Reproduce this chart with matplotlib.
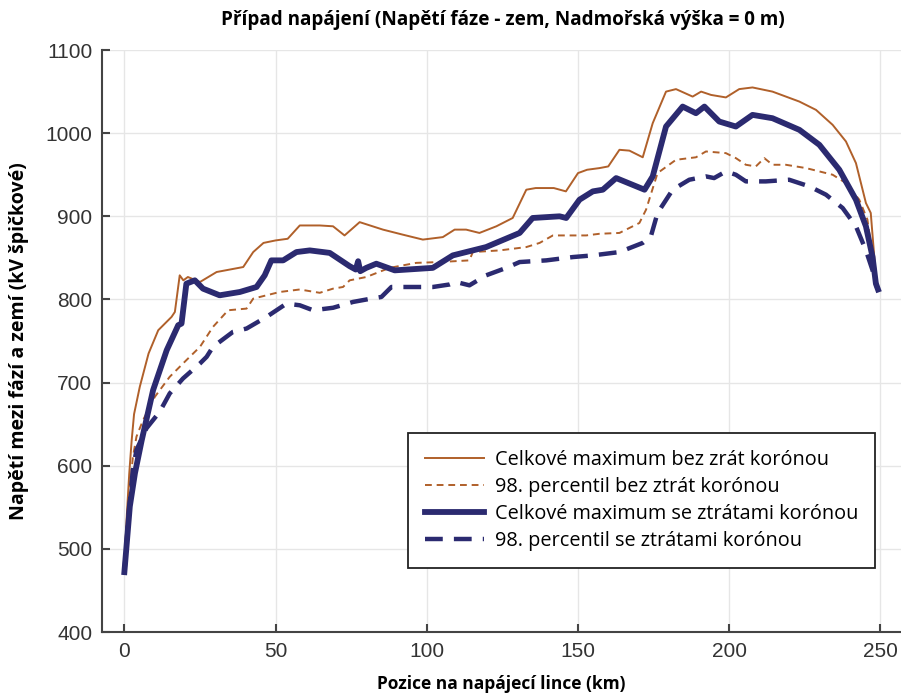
import matplotlib
matplotlib.use("Agg")
import matplotlib.pyplot as plt

# --- data (km, kV peak) ---
max_nocorona_x = [0, 0.8, 1.6, 2.4, 3.2, 5.1, 8, 11.2, 15.6, 16.7, 18.3, 19.5, 21, 25, 30.5,
                  39.3, 42.6, 46, 50, 54, 58, 64.6, 69, 72.8, 77.8, 85.5, 92, 98.7, 105.3,
                  109.2, 113, 117.4, 123, 128.4, 132.9, 136, 142, 146, 150, 153, 157.1,
                  160, 163.7, 167, 171.4, 174.7, 179.1, 182.4, 187.9, 190.7, 194, 198.9,
                  203.3, 207.7, 214.3, 223.2, 228.7, 234.2, 238.6, 241.9, 245.2, 246.8,
                  248.5, 249.2]
max_nocorona_y = [478, 540, 590, 630, 662, 695, 735, 763, 779, 785, 829, 823, 827, 821, 833,
                  839, 857, 868, 871, 873, 889, 889, 888, 877, 893, 884, 878, 872, 875,
                  884, 884, 880, 888, 898, 932, 934, 934, 930, 952, 956, 958,
                  960, 980, 979, 971, 1012, 1050, 1053, 1044, 1050, 1046, 1043,
                  1053, 1055, 1050, 1038, 1028, 1010, 990, 964, 916, 904,
                  827, 815]

max_corona_x = [0, 1.8, 3.5, 5.7, 9.5, 14, 17.8, 18.9, 20.5, 23.3, 26, 31.5, 38.2, 43.7,
                46.4, 48.6, 52.5, 56.9, 61.3, 67.9, 74.5, 76.5, 77.3, 78, 80, 83.3, 89.4,
                102, 108.6, 119.6, 130.7, 135, 143.9, 146.1, 150.5, 154.9, 158.2, 162.6,
                172, 174.7, 179.1, 184.6, 189, 191.8, 196.7, 202.2, 207.7, 214.3, 223.2,
                229.8, 236.4, 241.9, 245.2, 247.4, 248.5, 249.2]
max_corona_y = [472, 551, 591, 630, 691, 739, 769, 771, 819, 823, 813, 805, 809, 815,
                829, 847, 847, 857, 859, 856, 840, 836, 846, 834, 838, 843, 835,
                838, 853, 863, 880, 898, 900, 898, 920, 930, 932, 946,
                932, 948, 1008, 1032, 1024, 1032, 1014, 1008, 1022, 1018, 1004,
                986, 956, 920, 888, 851, 819, 812]

p98_nocorona_x = [0, 1.5, 2.8, 4, 6.2, 10.1, 15, 20.5, 25, 29.3, 34.3, 40.4, 42.6, 51.4,
                  58, 64.6, 69, 72.3, 74.5, 80, 87.7, 96.5, 104.2, 114.1, 115.2, 124.1,
                  132.9, 137.3, 141.7, 152.7, 157.1, 163.7, 170.3, 172.5, 176.3, 182.4,
                  189, 192.3, 198.9, 202.2, 205.5, 208.8, 211.6, 214.3, 218.7, 225.4,
                  234.2, 238.6, 243, 245.7, 248.5, 249.2]
p98_nocorona_y = [476, 560, 610, 635, 655, 683, 707, 727, 743, 767, 787, 789, 801, 809,
                  812, 808, 813, 815, 823, 827, 838, 844, 845, 847, 857, 859,
                  863, 868, 877, 877, 879, 880, 892, 908, 952, 968,
                  971, 978, 976, 970, 962, 960, 970, 962, 962, 958,
                  950, 940, 920, 896, 823, 814]

p98_corona_x = [0, 1.5, 2.8, 4, 7.3, 11.7, 15, 19.4, 25, 27.2, 29.3, 35.9, 40.4, 47,
                53.6, 58, 62.4, 69, 75.6, 81.6, 85, 88.3, 102, 107.5, 109.7, 114.1,
                119.6, 126.3, 130.7, 139.5, 148.3, 154.9, 163.7, 171.4, 174.1, 176.3,
                181.3, 186.8, 192.3, 195, 198.9, 202.2, 205.5, 212.1, 219.8, 226.5,
                232, 237.5, 241.9, 245.2, 247.4, 249]
p98_corona_y = [472, 545, 595, 619, 645, 665, 687, 705, 723, 731, 743, 761, 765, 779,
                795, 793, 787, 790, 797, 801, 803, 815, 815, 818, 821, 817,
                829, 838, 845, 847, 851, 853, 857, 868, 876, 904,
                932, 944, 948, 946, 954, 950, 942, 942, 944, 936,
                926, 910, 888, 859, 835, 813]

labels = ["Celkové maximum bez zrát korónou",
          "98. percentil bez ztrát korónou",
          "Celkové maximum se ztrátami korónou",
          "98. percentil se ztrátami korónou"]

BROWN = "#b0602a"
NAVY = "#2b2a70"

fig = plt.figure(figsize=(9.01, 6.93), dpi=100)
ax = fig.add_axes([0.1132, 0.088, 0.8868, 0.8398])

ax.plot(max_nocorona_x, max_nocorona_y, color=BROWN, lw=1.4, label=labels[0])
ax.plot(p98_nocorona_x, p98_nocorona_y, color=BROWN, lw=1.4, dashes=(3.5, 2.5), label=labels[1])
ax.plot(max_corona_x, max_corona_y, color=NAVY, lw=4.2, solid_joinstyle="round", label=labels[2])
ax.plot(p98_corona_x, p98_corona_y, color=NAVY, lw=3.2, dashes=(4, 2.5), label=labels[3])

ax.set_xlim(-7.4, 256.8)
ax.set_ylim(400, 1100)
ax.set_xticks(range(0, 251, 50))
ax.set_yticks(range(400, 1101, 100))
ax.grid(True, color="#e6e6e6", lw=1)
ax.set_axisbelow(True)
for s in ("top", "right"):
    ax.spines[s].set_visible(False)
for s in ("left", "bottom"):
    ax.spines[s].set_color("#444444")
    ax.spines[s].set_linewidth(1.5)
ax.tick_params(direction="in", length=6, width=1.5, color="#444444",
               labelsize=15, labelcolor="#333333", pad=7)
for t in ax.get_xticklabels() + ax.get_yticklabels():
    t.set_fontfamily("Liberation Sans")

fig.suptitle("Případ napájení (Napětí fáze - zem, Nadmořská výška = 0 m)",
             x=0.558, y=0.985, fontsize=13.6, fontweight="bold", family="Open Sans")
ax.set_xlabel("Pozice na napájecí lince (km)", fontsize=12.5, fontweight="bold",
              family="Open Sans", labelpad=10)
ax.set_ylabel("Napětí mezi fází a zemí (kV špičkové)", fontsize=14, fontweight="bold",
              family="Open Sans", labelpad=12)

leg = ax.legend(loc="upper right", bbox_to_anchor=(0.968, 0.342), borderaxespad=0,
                prop={"family": "Open Sans", "size": 14.3},
                frameon=True, fancybox=False, edgecolor="#222222", framealpha=1,
                handlelength=3.0, handletextpad=0.55, labelspacing=0.35, borderpad=0.85)
leg.get_frame().set_linewidth(1.3)

fig.savefig("out.png", dpi=100)
